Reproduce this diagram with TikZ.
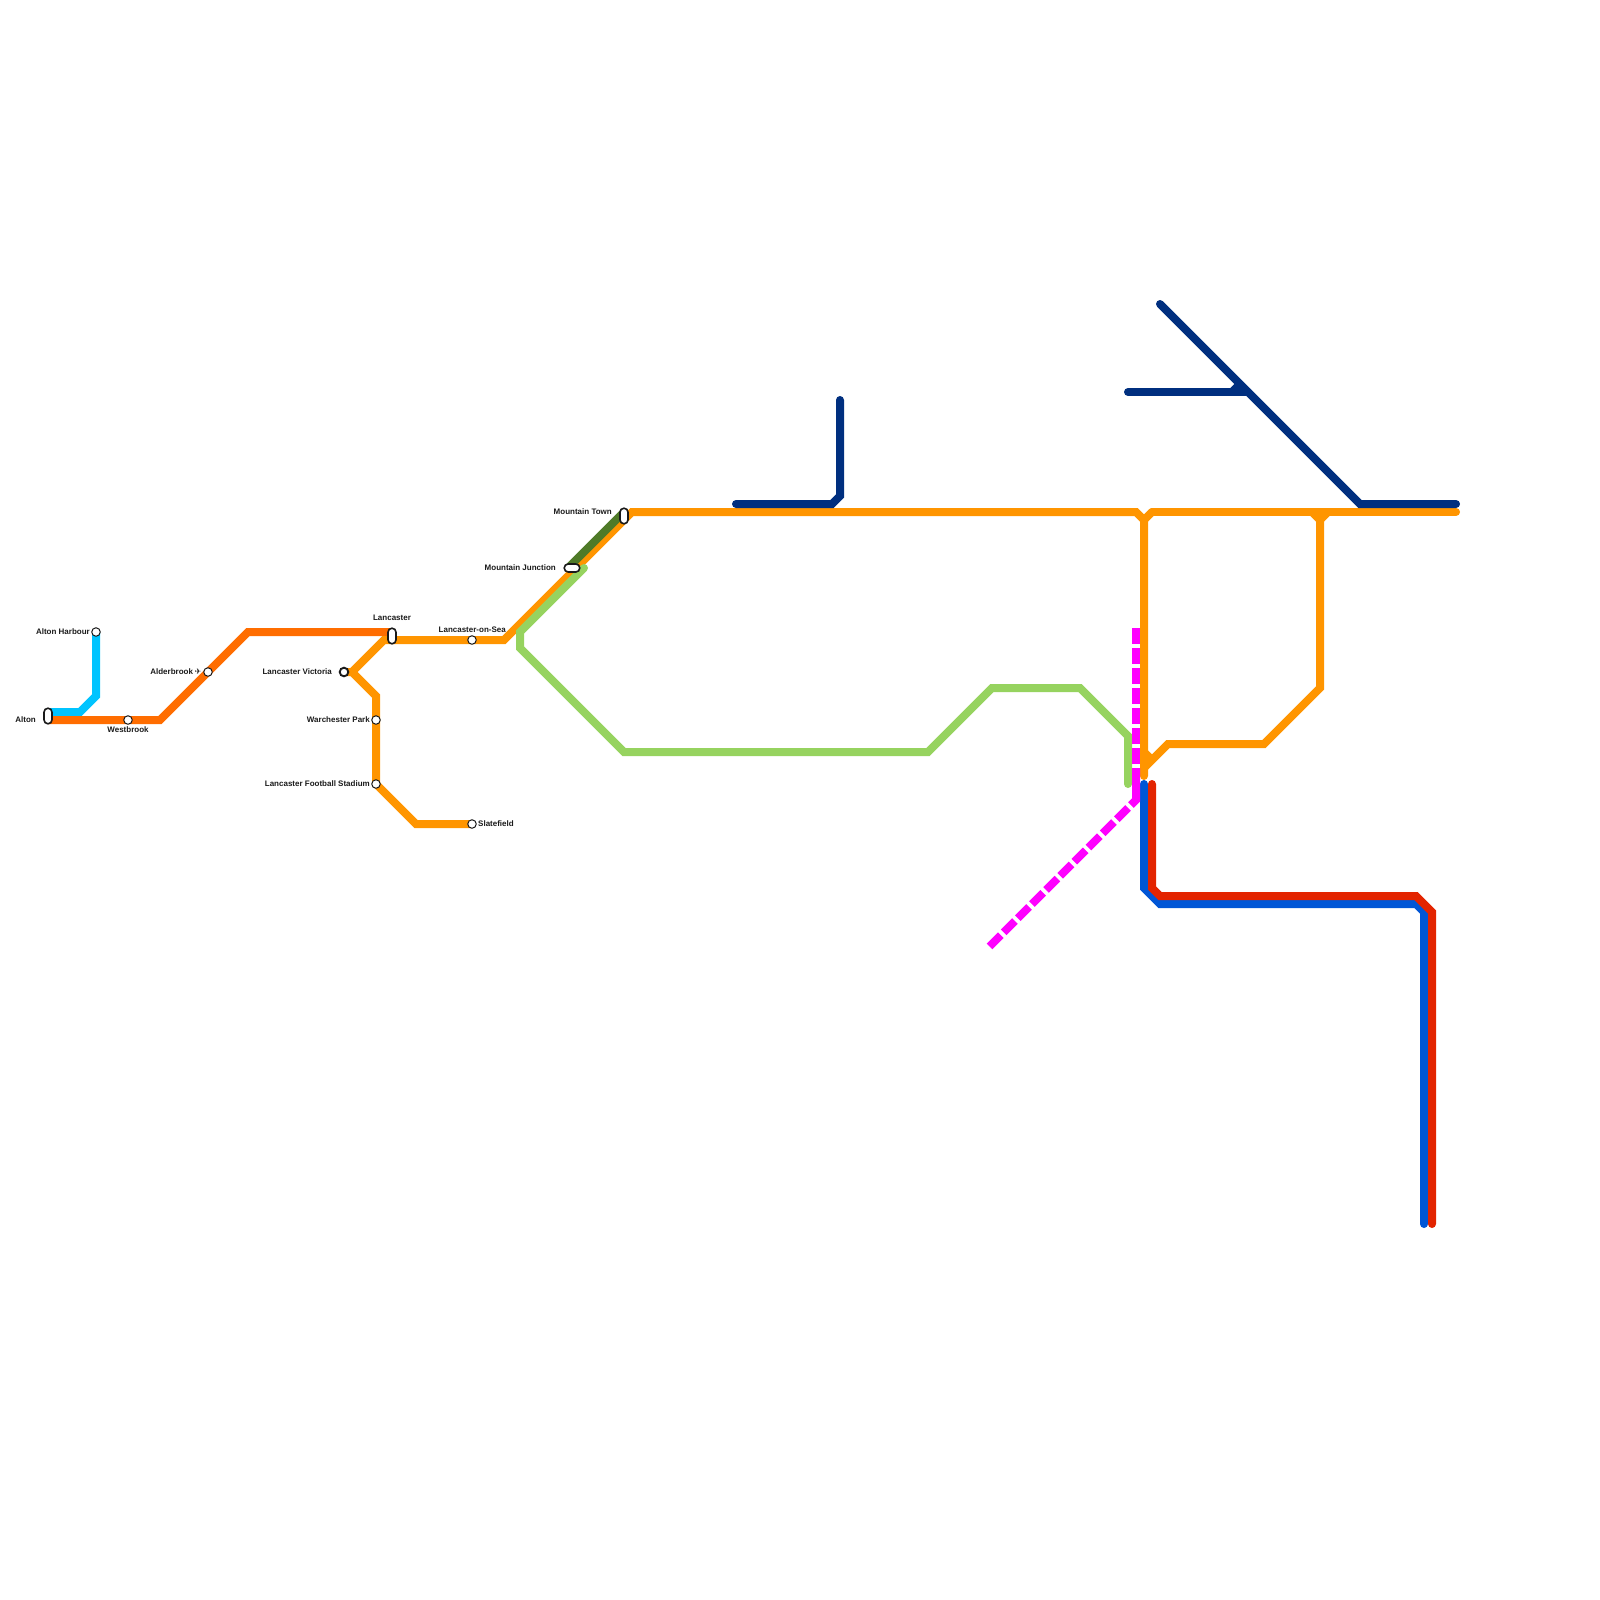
\documentclass[tikz,border=0pt]{standalone}
\usepackage{fontspec}
\setmainfont{Liberation Sans}
\newfontfamily\symfont{DejaVu Sans}
\definecolor{lblue}{HTML}{00C4FF}
\definecolor{dorange}{HTML}{FF6D00}
\definecolor{morange}{HTML}{FF9500}
\definecolor{lgreen}{HTML}{96D35F}
\definecolor{dgreen}{HTML}{4F7A28}
\definecolor{navy}{HTML}{002F7F}
\definecolor{mblue}{HTML}{0056D6}
\definecolor{mred}{HTML}{E32400}
\definecolor{magen}{HTML}{FF00FF}
\definecolor{ink}{HTML}{1A1A1A}
\tikzset{
  route/.style={line width=8pt,line cap=round,line join=miter,miter limit=10},
  stopdot/.style={circle,draw=ink,fill=white,line width=1pt,minimum size=8.5pt,inner sep=0pt},
  stopbold/.style={circle,draw=ink,fill=white,line width=1.9pt,minimum size=8.6pt,inner sep=0pt},
  pillh/.style={rectangle,rounded corners=3.9pt,draw=ink,fill=white,line width=1.6pt,minimum width=15.5pt,minimum height=8pt,inner sep=0pt},
  pillv/.style={rectangle,rounded corners=3.9pt,draw=ink,fill=white,line width=1.6pt,minimum width=8pt,minimum height=15.5pt,inner sep=0pt},
  lab/.style={font=\fontsize{8}{9.6}\selectfont\bfseries,text=ink,inner sep=0pt},
}
\begin{document}
\begin{tikzpicture}[x=1pt,y=-1pt]
\useasboundingbox (0,0) rectangle (1600,1600);
% station positions
\coordinate (cAlton) at (48,716);
\coordinate (cHarbour) at (96,632);
\coordinate (cWest) at (128,720);
\coordinate (cAlder) at (208,672);
\coordinate (cLanc) at (392,636);
\coordinate (cVic) at (344,672);
\coordinate (cWar) at (376,720);
\coordinate (cFoot) at (376,784);
\coordinate (cSlate) at (472,824);
\coordinate (cSea) at (472,640);
\coordinate (cMJ) at (572,568);
\coordinate (cMT) at (624,516);
% routes
\draw[route,lblue] (48,712) -- (80,712) -- (96,696) -- (cHarbour);
\draw[route,dorange] (48,720) -- (cWest) -- (160,720) -- (cAlder) -- (248,632) -- (392,632);
\draw[route,morange] (cVic) -- (352,672) -- (384,640) -- (392,640) -- (cSea) -- (504,640) -- (632,512) -- (1136,512) -- (1144,520) -- (1144,776);
\draw[route,morange] (1152,512) -- (1144,520);
\draw[route,morange] (1456,512) -- (1152,512);
\draw[route,morange] (1312,512) -- (1320,520) -- (1320,688) -- (1264,744) -- (1168,744) -- (1144,768);
\draw[route,morange] (1328,512) -- (1320,520);
\draw[route,morange,line cap=butt] (1144,752) -- (1152,760);
\draw[route,morange] (352,672) -- (376,696) -- (cWar) -- (cFoot) -- (416,824) -- (cSlate);
\draw[route,dgreen] (568,568) -- (624,512);
\draw[route,lgreen] (584,568) -- (520,632) -- (520,648) -- (624,752) -- (928,752) -- (992,688) -- (1080,688) -- (1128,736) -- (1128,784);
\draw[route,navy] (736,504) -- (832,504) -- (840,496) -- (840,400);
\draw[route,navy] (1160,304) -- (1360,504) -- (1456,504);
\draw[route,navy] (1128,392) -- (1248,392);
\draw[route,navy,line cap=butt] (1232,392) -- (1240,384);
\draw[route,mblue] (1144,784) -- (1144,888) -- (1160,904) -- (1416,904) -- (1424,912) -- (1424,1224);
\draw[route,mred] (1152,784) -- (1152,888) -- (1160,896) -- (1416,896) -- (1432,912) -- (1432,1224);
\draw[route,magen,line cap=butt,dash pattern=on 16pt off 4pt] (1136,628) -- (1136,784);
\draw[route,magen,line cap=butt] (1136,768) -- (1136,800) -- (1130.9,805.1);
\draw[route,magen,line cap=butt,dash pattern=on 16pt off 4pt] (989.5,946.5) -- (1130.9,805.1);
% stations
\node[pillv] (alton) at (cAlton) {};
\node[stopdot] (harbour) at (cHarbour) {};
\node[stopdot] (west) at (cWest) {};
\node[stopdot] (alder) at (cAlder) {};
\node[pillv] (lanc) at (cLanc) {};
\node[stopbold] (vic) at (cVic) {};
\node[stopdot] (war) at (cWar) {};
\node[stopdot] (foot) at (cFoot) {};
\node[stopdot] (slate) at (cSlate) {};
\node[stopdot] (sea) at (cSea) {};
\node[pillh] (mj) at (cMJ) {};
\node[pillv] (mt) at (cMT) {};
% labels
\node[lab,anchor=east] at (36,720) {Alton};
\node[lab,anchor=east] at (90,632) {Alton Harbour};
\node[lab] at (128,730) {Westbrook};
\node[lab,anchor=east] at (201.5,672) {Alderbrook\hspace{-0.6pt} {\symfont ✈}};
\node[lab] at (392,618) {Lancaster};
\node[lab,anchor=east] at (332,672) {Lancaster Victoria};
\node[lab,anchor=east] at (370,720) {Warchester Park};
\node[lab,anchor=east] at (370,784) {Lancaster Football Stadium};
\node[lab,anchor=west] at (478,824) {Slatefield};
\node[lab,anchor=east] at (506,630) {Lancaster-on-Sea};
\node[lab,anchor=east] at (556,568) {Mountain Junction};
\node[lab,anchor=east] at (612,512) {Mountain Town};
\end{tikzpicture}
\end{document}
